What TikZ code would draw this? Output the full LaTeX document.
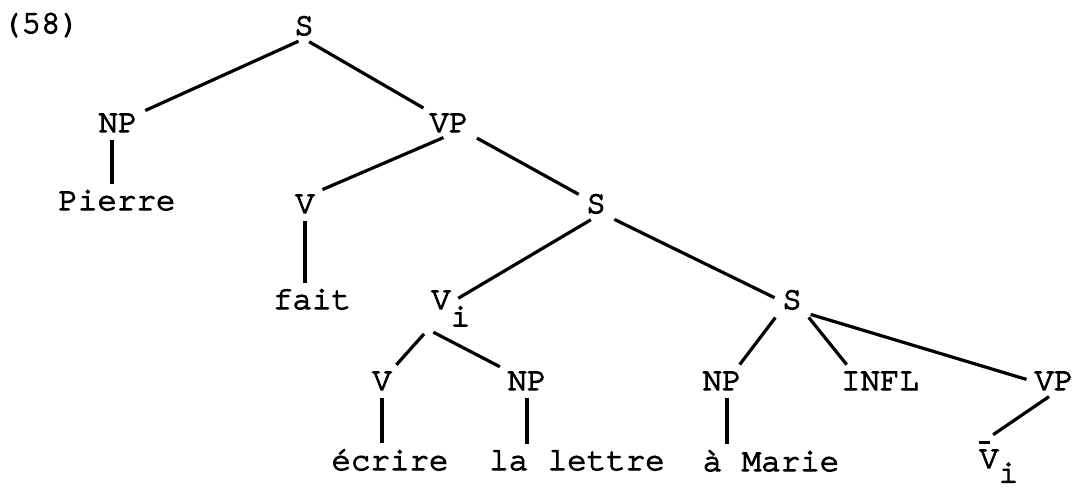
\documentclass[tikz,border=0pt]{standalone}
\usepackage{fontspec}
\newfontfamily\tw[FakeBold=3.5]{texgyrecursor-regular.otf}
\newcommand\lowsub[2][-0.53em]{\rlap{\raisebox{#1}{#2}}}
\newcommand\barV{\makebox[0pt][l]{\hspace{0.0em}\raisebox{0.74em}{\rule{0.34em}{0.1em}}}V}
\begin{document}
\begin{tikzpicture}[x=1pt,y=-1pt,
  every node/.style={font=\tw\fontsize{32.5}{38}\selectfont, inner sep=3pt, anchor=base},
  tree/.style={line width=3.2pt, shorten <=6pt, shorten >=5pt},
  vline/.style={line width=3.2pt, shorten <=5pt, shorten >=3pt}]
\useasboundingbox (0,0) rectangle (1073,488);
\node (num) at (41,33) {(58)};
\node (s1) at (304,35) {S};
\node (np1) at (118,132) {NP};
\node (vp1) at (449,132) {VP};
\node (pierre) at (117,210) {Pierre};
\node (v1) at (305,213) {V};
\node (s2) at (596,213) {S};
\node (fait) at (312,309) {fait};
\node (vi) at (441,309) {V\lowsub{i}};
\node (s3) at (792,309) {S};
\node (v2) at (382,390) {V};
\node (np2) at (527,390) {NP};
\node (np3) at (722,390) {NP};
\node (infl) at (880,390) {INFL};
\node (vp2) at (1054,390) {VP};
\node (ecrire) at (390,470) {écrire};
\node (lettre) at (577,470) {la lettre};
\node (marie) at (771,471) {à Marie};
\node (vbar) at (989,468) {\barV\lowsub[-0.45em]{i}};
\draw[tree] (s1.south) -- (np1);
\draw[tree] (s1.south) -- (vp1);
\draw[vline] ([xshift=-6pt]np1.south) -- ([xshift=-6pt]np1.south |- pierre.north);
\draw[tree] (vp1.south) -- (v1.north east);
\draw[tree] (vp1.south east) -- (s2);
\draw[vline] (v1.south) -- (v1.south |- fait.north);
\draw[tree] (s2.south) -- (vi);
\draw[tree] (s2.south east) -- (s3.west);
\draw[tree] (vi.south west) -- (v2);
\draw[tree] (vi.south west) -- (np2);
\draw[vline] (v2.south) -- (v2.south |- ecrire.north);
\draw[vline] (np2.south) -- (np2.south |- lettre.north);
\draw[tree] (s3.south west) -- ([xshift=-8pt]np3.north east);
\draw[tree] (s3.south east) -- ([xshift=12pt]infl.north west);
\draw[tree] (s3.south east) -- (vp2.west);
\draw[vline] ([xshift=5pt]np3.south) -- ([xshift=5pt]np3.south |- marie.north);
\draw[tree] (vp2.south) -- (vbar.north);
\end{tikzpicture}
\end{document}
